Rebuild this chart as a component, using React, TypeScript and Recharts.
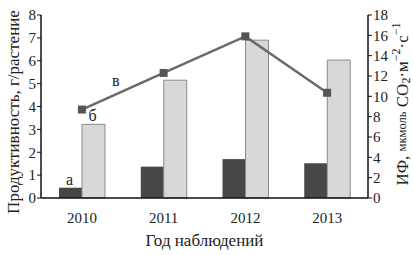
import React from "react";
import {
  ComposedChart,
  Bar,
  Line,
  XAxis,
  YAxis,
  LabelList,
  Label,
} from "recharts";

const years = ["2010", "2011", "2012", "2013"];
const seriesA = [0.45, 1.37, 1.7, 1.52];
const seriesB = [3.22, 5.15, 6.9, 6.03];
const seriesIF = [8.7, 12.3, 15.9, 10.35];
const leftTicks = [0, 1, 2, 3, 4, 5, 6, 7, 8];
const rightTicks = [0, 2, 4, 6, 8, 10, 12, 14, 16, 18];
const tagA = ["а", "", "", ""];
const tagB = ["б", "", "", ""];
const tagV = ["в", "", "", ""];

const data = years.map((y, i) => ({
  year: y,
  a: seriesA[i],
  b: seriesB[i],
  f: seriesIF[i],
  ta: tagA[i],
  tb: tagB[i],
  tv: tagV[i],
}));

const FONT = "'Liberation Serif', 'DejaVu Serif', serif";
const TXT = "#222";

const Square = (props: any) => {
  const { cx, cy } = props;
  if (cx == null || cy == null) return null;
  return <rect x={cx - 4} y={cy - 4} width={8} height={8} fill="#555" />;
};

const LeftLabel = (props: any) => {
  const cx = 13;
  const cy = 112;
  return (
    <text
      x={cx}
      y={cy}
      transform={`rotate(-90 ${cx} ${cy})`}
      textAnchor="middle"
      dominantBaseline="central"
      fontFamily={FONT}
      fontSize={17}
      fill={TXT}
    >
      Продуктивность, г/растение
    </text>
  );
};

const RightLabel = (props: any) => {
  const cx = 402;
  const cy = 104;
  return (
    <text
      x={cx}
      y={cy}
      transform={`rotate(-90 ${cx} ${cy})`}
      textAnchor="middle"
      dominantBaseline="central"
      fontFamily={FONT}
      fontSize={17}
      fill={TXT}
    >
      <tspan>ИФ, </tspan>
      <tspan fontSize={12.5}>мкмоль</tspan>
      <tspan> CO</tspan>
      <tspan fontSize={12} dy={4}>2</tspan>
      <tspan dy={-4}>·м</tspan>
      <tspan fontSize={12} dy={-6}>−2</tspan>
      <tspan dy={6}>·с</tspan>
      <tspan fontSize={12} dy={-6}>−1</tspan>
    </text>
  );
};

const VTag = (props: any) => {
  const { x, y, value } = props;
  if (!value) return null;
  return (
    <text
      x={x + 34}
      y={y - 24}
      textAnchor="middle"
      fontFamily={FONT}
      fontSize={16}
      fill={TXT}
    >
      {value}
    </text>
  );
};

const BarTag = (props: any) => {
  const { x, y, width, value } = props;
  if (!value) return null;
  return (
    <text
      x={x + width / 2 - 1}
      y={y - 3}
      textAnchor="middle"
      fontFamily={FONT}
      fontSize={16}
      fill={TXT}
    >
      {value}
    </text>
  );
};

export default function App() {
  return (
    <div style={{ position: "fixed", left: 0, top: 0, background: "#fff" }}>
      <ComposedChart
        width={413}
        height={255}
        data={data}
        margin={{ top: 15, right: 0, bottom: 0, left: 0 }}
        barGap={0}
        barSize={23}
      >
        <XAxis
          dataKey="year"
          height={57}
          tickLine={false}
          axisLine={{ stroke: "#111", strokeWidth: 1.5 }}
          tick={{ fontFamily: FONT, fontSize: 15, fill: TXT }}
          tickMargin={8}
        >
          <Label
            value="Год наблюдений"
            position="insideBottom"
            offset={9}
            style={{ fontFamily: FONT, fontSize: 17, fill: TXT }}
          />
        </XAxis>
        <YAxis
          yAxisId="left"
          width={41}
          domain={[0, 8]}
          ticks={leftTicks}
          interval={0}
          tickSize={4}
          tickMargin={1}
          axisLine={{ stroke: "#111", strokeWidth: 1.5 }}
          tickLine={{ stroke: "#111" }}
          tick={{ fontFamily: FONT, fontSize: 15, fill: TXT }}
          label={<LeftLabel />}
        />
        <YAxis
          yAxisId="right"
          orientation="right"
          width={45}
          domain={[0, 18]}
          ticks={rightTicks}
          interval={0}
          tickSize={4}
          tickMargin={1}
          axisLine={{ stroke: "#111", strokeWidth: 1.5 }}
          tickLine={{ stroke: "#111" }}
          tick={{ fontFamily: FONT, fontSize: 15, fill: TXT }}
          label={<RightLabel />}
        />
        <Bar
          yAxisId="left"
          dataKey="a"
          fill="#474747"
          isAnimationActive={false}
        >
          <LabelList dataKey="ta" content={<BarTag />} />
        </Bar>
        <Bar
          yAxisId="left"
          dataKey="b"
          fill="#d8d8d8"
          stroke="#8a8a8a"
          strokeWidth={1}
          isAnimationActive={false}
        >
          <LabelList dataKey="tb" content={<BarTag />} />
        </Bar>
        <Line
          yAxisId="right"
          dataKey="f"
          stroke="#6a6a6a"
          strokeWidth={2.5}
          dot={<Square />}
          activeDot={false}
          isAnimationActive={false}
        >
          <LabelList dataKey="tv" content={<VTag />} />
        </Line>
      </ComposedChart>
    </div>
  );
}
